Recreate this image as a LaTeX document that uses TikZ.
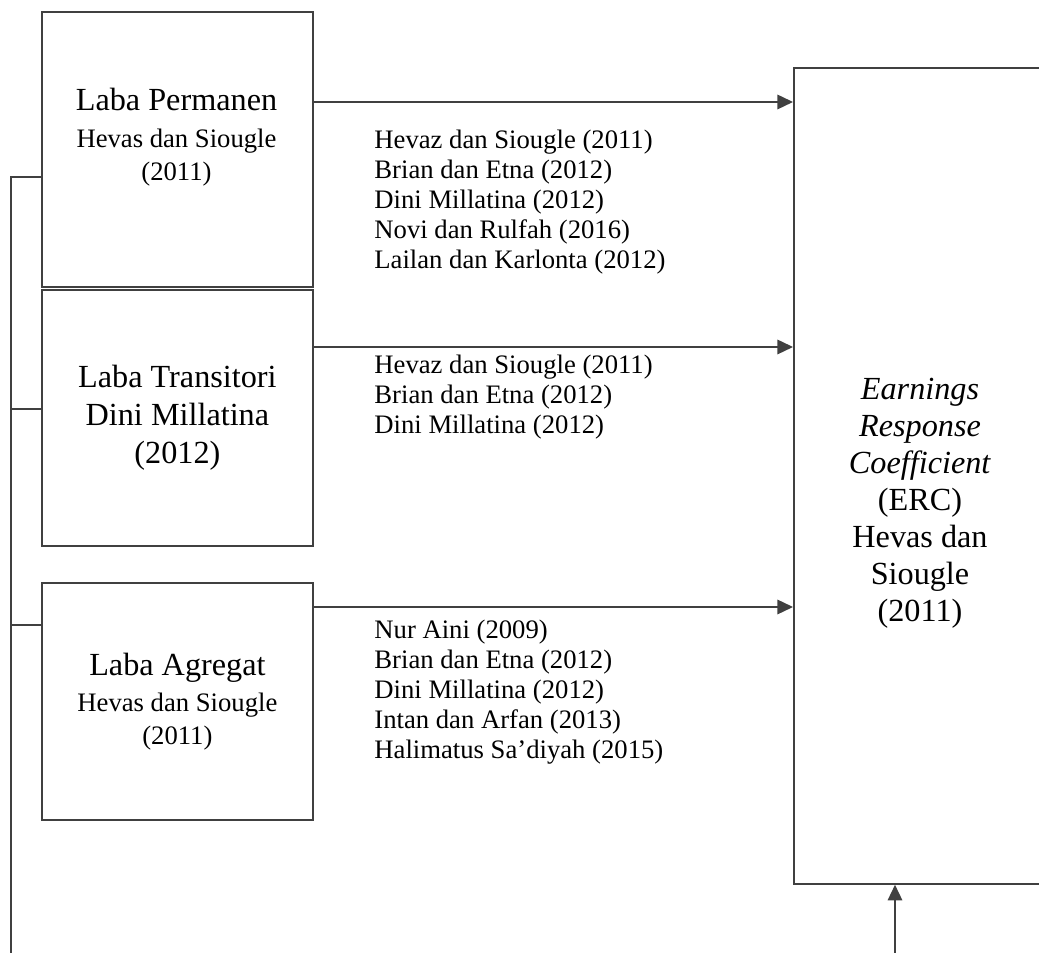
\documentclass[tikz,border=0pt]{standalone}
\usepackage{fontspec}
\setmainfont{Liberation Serif}
\usetikzlibrary{arrows.meta, positioning}
\newcommand{\bigtxt}{\fontsize{14.5}{16.65}\selectfont}
\newcommand{\smalltxt}{\fontsize{12}{14.8}\selectfont}
\newcommand{\reftxt}{\fontsize{12}{13.5}\selectfont}

\begin{document}
\begin{tikzpicture}[x=0.45pt,y=-0.45pt,
    box/.style={draw=black!75, line width=0.8pt, anchor=north west, minimum width=271*0.45pt, inner sep=0pt, align=center},
    wire/.style={draw=black!75, line width=0.8pt},
    arr/.style={wire, -{Triangle[length=7pt,width=6.5pt]}},
    refs/.style={anchor=north west, inner sep=0pt, align=left, font=\reftxt}]
	% page frame
	\useasboundingbox (0,0) rectangle (1039,953);
	\clip (0,0) rectangle (1039,953);
	% kinds of earnings
	\node[box, minimum height=275*0.45pt] (perm) at (41,11) {};
	\node[font=\smalltxt, align=center, inner sep=0pt] (perml) at (176.5,137)
		{{\bigtxt Laba Permanen}\\[1.8pt] Hevas dan Siougle\\ (2011)};
	\node[box, minimum height=256*0.45pt, font=\fontsize{14.5}{17}\selectfont] (trans) at (41,289)
		{Laba Transitori\\ Dini Millatina\\ (2012)};
	\node[box, minimum height=237*0.45pt, font=\smalltxt] (agr) at (41,582)
		{{\bigtxt Laba Agregat}\\[1.5pt] Hevas dan Siougle\\ (2011)};
	% response coefficient, cut by the page edge
	\node[draw=black!75, line width=0.8pt, anchor=north west, minimum width=300*0.45pt, minimum height=816*0.45pt] (erc) at (793,67) {};
	\node[font=\bigtxt, align=center, inner sep=0pt] (ercl) at (920,503)
		{\textit{Earnings}\\ \textit{Response}\\ \textit{Coefficient}\\ (ERC)\\ Hevas dan\\ Siougle\\ (2011)};
	% arrows to ERC
	\coordinate (a1) at (312,102);
	\coordinate (a2) at (312,347);
	\coordinate (a3) at (312,607);
	\draw[arr] (a1) -- (a1 -| erc.west);
	\draw[arr] (a2) -- (a2 -| erc.west);
	\draw[arr] (a3) -- (a3 -| erc.west);
	\coordinate (b0) at (895,953);
	\draw[arr] (b0) -- (b0 |- erc.south);
	% left bus
	\coordinate (s1) at (11,177);
	\coordinate (s2) at (11,409);
	\coordinate (s3) at (11,625);
	\coordinate (s4) at (11,953);
	\draw[wire] (s4) -- (s1) -- (s1 -| perm.west);
	\draw[wire] (s2) -- (s2 -| trans.west);
	\draw[wire] (s3) -- (s3 -| agr.west);
	% studies along each arrow
	\node[refs] (r1) at (374,129.6) {Hevaz dan Siougle (2011)\\ Brian dan Etna (2012)\\ Dini Millatina (2012)\\ Novi dan Rulfah (2016)\\ Lailan dan Karlonta (2012)};
	\node[refs] (r2) at (374,354.6) {Hevaz dan Siougle (2011)\\ Brian dan Etna (2012)\\ Dini Millatina (2012)};
	\node[refs] (r3) at (374,619.6) {Nur Aini (2009)\\ Brian dan Etna (2012)\\ Dini Millatina (2012)\\ Intan dan Arfan (2013)\\ Halimatus Sa’diyah (2015)};
\end{tikzpicture}
\end{document}
